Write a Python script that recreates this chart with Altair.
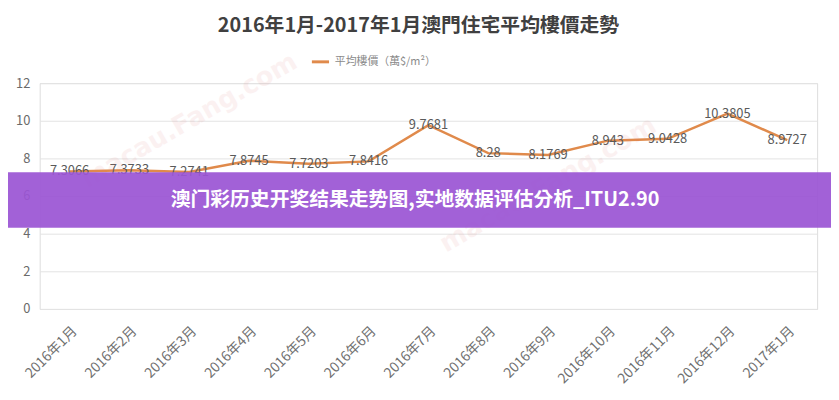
import altair as alt
import pandas as pd

months = ["2016年1月", "2016年2月", "2016年3月", "2016年4月", "2016年5月", "2016年6月",
          "2016年7月", "2016年8月", "2016年9月", "2016年10月", "2016年11月", "2016年12月",
          "2017年1月"]
prices = [7.3066, 7.3733, 7.2741, 7.8745, 7.7203, 7.8416,
          9.7681, 8.28, 8.1769, 8.943, 9.0428, 10.3805, 8.9727]
labels = ["7.3066", "7.3733", "7.2741", "7.8745", "7.7203", "7.8416",
          "9.7681", "8.28", "8.1769", "8.943", "9.0428", "10.3805", "8.9727"]
series_name = "平均樓價（萬$/m²）"
title_text = "2016年1月-2017年1月澳門住宅平均樓價走勢"
banner_text = "澳门彩历史开奖结果走势图,实地数据评估分析_ITU2.90"
watermark = "macau.Fang.com"
wm_months = ["2016年3月", "2016年9月"]
wm_values = [10.0, 6.6]

df = pd.DataFrame({"month": months, "price": prices, "label": labels,
                   "series": [series_name] * len(months)})
wm_df = pd.DataFrame({"t": [watermark] * 2, "month": wm_months, "price": wm_values})

FONT = "Noto Sans CJK TC"
W, H = 785, 228

x = alt.X("month:O", sort=months,
          scale=alt.Scale(domain=months, paddingInner=0, paddingOuter=0.5),
          axis=alt.Axis(title=None, labelAngle=-45, labelFontSize=14, labelColor="#707070",
                        labelFont=FONT, domain=False, ticks=False, labelPadding=15, grid=False))
y = alt.Y("price:Q", scale=alt.Scale(domain=[0, 12]),
          axis=alt.Axis(title=None, values=[0, 2, 4, 6, 8, 10, 12], labelFontSize=13,
                        labelColor="#6a6a6a", labelFont=FONT, domain=False, ticks=False,
                        labelPadding=10, gridColor="#e3e3e3", gridWidth=1,
                        labelOverlap=False))

line = alt.Chart(df).mark_line(strokeWidth=2.5).encode(
    x=x, y=y,
    color=alt.Color("series:N", scale=alt.Scale(range=["#e08a4b"]),
                    legend=alt.Legend(title=None, orient="none", legendX=273, legendY=-32,
                                      symbolType="stroke", symbolStrokeWidth=3, symbolSize=300,
                                      labelFontSize=11, labelColor="#8a8a8a", labelFont=FONT)))

text = alt.Chart(df).mark_text(fontSize=13, color="#5a5a5a", font=FONT,
                               baseline="middle").encode(x=x, y=y, text="label:N")

wm = alt.Chart(wm_df).mark_text(fontSize=26, fontWeight="bold", color="#e08080", opacity=0.1,
                                angle=330, font="DejaVu Sans").encode(x=x, y=y, text="t:N")

banner = alt.Chart(df.head(1)).mark_rect(color="#9b55d4", opacity=0.93).encode(
    x=alt.value(-32), x2=alt.value(799), y=alt.value(90), y2=alt.value(146))

banner_txt = alt.Chart(df.head(1)).mark_text(
    fontSize=20, fontWeight="bold", color="white", font=FONT, baseline="middle").encode(
    x=alt.value(379), y=alt.value(118), text=alt.value(banner_text))

chart = alt.layer(line, text, wm, banner, banner_txt).properties(
    width=W, height=H,
    title=alt.TitleParams(title_text, fontSize=20, fontWeight="bold", color="#404040",
                          font=FONT, anchor="middle", offset=13, dx=-10),
    autosize=alt.AutoSizeParams(type="none"),
    padding={"left": 32, "top": 74, "right": 14, "bottom": 82},
).configure_view(stroke=None).configure(background="white")

chart.save("out.html", embed_options={"renderer": "svg", "actions": False})
